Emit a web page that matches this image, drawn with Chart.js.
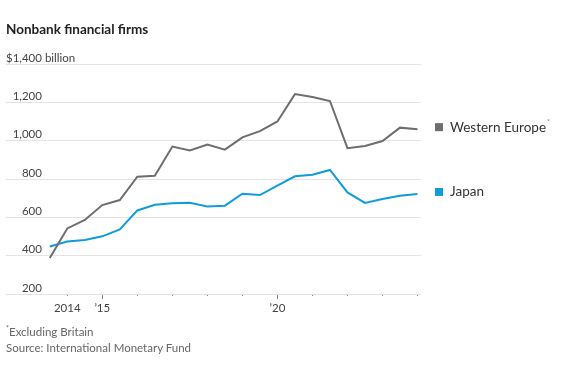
<!DOCTYPE html>
<html><head><meta charset="utf-8">
<script src="https://cdn.jsdelivr.net/npm/chart.js@4"></script>
<style>
html,body{margin:0;padding:0;background:#fff;}
#wrap{position:relative;width:578px;height:369px;overflow:hidden;}
canvas{position:absolute;left:0;top:0;}
.t{position:absolute;left:6px;top:21px;font:bold 13.5px Lato,sans-serif;color:#222;white-space:nowrap;}
.n{position:absolute;left:6px;font:11.5px Lato,sans-serif;color:#666;white-space:nowrap;}
.n sup{font-size:7px;vertical-align:top;line-height:1;}
</style></head><body>
<div id="wrap">
<canvas id="c" width="578" height="369"></canvas>
<div class="t">Nonbank financial firms</div>
<div class="n" style="top:325px"><sup>*</sup>Excluding Britain</div>
<div class="n" style="top:341px">Source: International Monetary Fund</div>
</div>
<script>
const periods = [2013.5, 2014, 2014.5, 2015, 2015.5, 2016, 2016.5, 2017, 2017.5, 2018, 2018.5,
                 2019, 2019.5, 2020, 2020.5, 2021, 2021.5, 2022, 2022.5, 2023, 2023.5, 2024];
const westernEurope = [388, 542, 586, 664, 690, 812, 817, 969, 949, 980, 953,
                       1017, 1050, 1100, 1243, 1228, 1207, 961, 972, 998, 1068, 1060];
const japan = [448, 474, 482, 501, 537, 636, 666, 673, 676, 657, 661,
               723, 716, 765, 814, 822, 847, 730, 675, 696, 713, 722];
const seriesNames = ['Western Europe', 'Japan'];
const seriesColors = ['#6e6e6e', '#0f9cdc'];
const yTickValues = [200, 400, 600, 800, 1000, 1200, 1400];
const xTickYears = [2014, 2015, 2016, 2017, 2018, 2019, 2020, 2021, 2022, 2023, 2024];
const xTickLabels = {2014: '2014', 2015: '\u201915', 2020: '\u201920'};

const FONT = "Lato, sans-serif";
const TICK_SIZE = 11.5;

const endLabels = {
  id: 'endLabels',
  afterDraw(chart) {
    const ctx = chart.ctx;
    const area = chart.chartArea;
    const ys = chart.scales.y;
    ctx.save();
    // " billion" after the top tick label
    ctx.font = TICK_SIZE + "px " + FONT;
    let widest = 0;
    ys.ticks.forEach(t => { widest = Math.max(widest, ctx.measureText(ys.options.ticks.callback(t.value)).width); });
    ctx.fillStyle = '#444';
    ctx.textAlign = 'left';
    ctx.textBaseline = 'middle';
    ctx.fillText(' billion', ys.right + widest, ys.getPixelForValue(1400) + ys.options.ticks.labelOffset);
    // end-of-line labels
    chart.data.datasets.forEach((ds, i) => {
      const meta = chart.getDatasetMeta(i);
      const pt = meta.data[meta.data.length - 1];
      const y = pt.y - 2;
      ctx.fillStyle = ds.borderColor;
      ctx.fillRect(area.right + 14, y - 4, 8, 8);
      ctx.fillStyle = '#333';
      ctx.font = "13.5px " + FONT;
      ctx.textAlign = 'left';
      ctx.textBaseline = 'middle';
      ctx.fillText(ds.label, area.right + 29, y);
      if (i === 0) {
        const w = ctx.measureText(ds.label).width;
        ctx.font = "7px " + FONT;
        ctx.fillStyle = '#888';
        ctx.fillText('*', area.right + 29 + w + 1, y - 4);
      }
    });
    ctx.restore();
  }
};

new Chart(document.getElementById('c'), {
  type: 'line',
  data: {
    datasets: [
      {label: seriesNames[0], data: periods.map((p, i) => ({x: p, y: westernEurope[i]})),
       borderColor: seriesColors[0], backgroundColor: seriesColors[0]},
      {label: seriesNames[1], data: periods.map((p, i) => ({x: p, y: japan[i]})),
       borderColor: seriesColors[1], backgroundColor: seriesColors[1]}
    ]
  },
  options: {
    responsive: false,
    animation: false,
    layout: {padding: {left: 6, top: 64, right: 157, bottom: 53}},
    elements: {line: {borderWidth: 2, tension: 0}, point: {radius: 0}},
    plugins: {legend: {display: false}, tooltip: {enabled: false}},
    scales: {
      x: {
        type: 'linear', min: 2012.25, max: 2024.1,
        afterBuildTicks: s => { s.ticks = xTickYears.map(v => ({value: v})); },
        afterFit: s => { s.height = 22; },
        ticks: {autoSkip: false, maxRotation: 0, padding: 2, color: '#444',
                font: {family: FONT, size: TICK_SIZE}, callback: v => xTickLabels[v] || ''},
        grid: {drawOnChartArea: false, drawTicks: true, tickLength: 5, tickColor: '#888', tickWidth: 1,
               tickBorderDash: c => (c.tick && c.tick.value % 5 === 0) ? [] : [2, 10]},
        border: {display: false}
      },
      y: {
        min: 200, max: 1400,
        afterBuildTicks: s => { s.ticks = yTickValues.map(v => ({value: v})); },
        afterFit: s => { s.width = 0; },
        ticks: {mirror: true, crossAlign: 'far', padding: 0, labelOffset: -6, color: '#444',
                font: {family: FONT, size: TICK_SIZE},
                callback: v => (v === 1400 ? '$' : '') + v.toLocaleString('en-US')},
        grid: {color: '#e3e3e3', lineWidth: 1, drawTicks: false},
        border: {display: false}
      }
    }
  },
  plugins: [endLabels]
});
</script>
</body></html>
